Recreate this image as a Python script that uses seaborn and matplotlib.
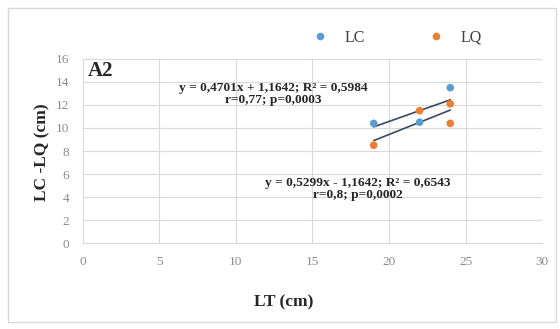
import matplotlib
matplotlib.use("Agg")
import matplotlib.pyplot as plt
import numpy as np
import pandas as pd
import seaborn as sns
from matplotlib.patches import Rectangle

# data
lt_lc = [19, 22, 24]
lc_vals = [10.4, 10.5, 13.5]
lt_lq = [19, 22, 24, 24]
lq_vals = [8.5, 11.5, 12.1, 10.4]

fit_lc = (0.4701, 1.1642)
fit_lq = (0.5299, -1.1642)
eq_lc = "y = 0,4701x + 1,1642; R² = 0,5984\nr=0,77; p=0,0003"
eq_lq = "y = 0,5299x - 1,1642; R² = 0,6543\nr=0,8; p=0,0002"

x_ticks = [0, 5, 10, 15, 20, 25, 30]
y_ticks = [0, 2, 4, 6, 8, 10, 12, 14, 16]

BLUE = "#5b9bd5"
ORANGE = "#ed7d31"
LINE = "#3a4a5e"
GRID = "#d9d9d9"
TICK = "#8a8a8a"

df = pd.DataFrame({
    "LT": lt_lc + lt_lq,
    "val": lc_vals + lq_vals,
    "serie": ["LC"] * len(lt_lc) + ["LQ"] * len(lt_lq),
})

sns.set_style("white")
plt.rcParams["font.family"] = ["Liberation Serif", "DejaVu Serif"]

fig = plt.figure(figsize=(5.6, 3.29), dpi=100)
ax = fig.add_axes([0.148, 0.261, 0.82, 0.56])

# regression lines over the data range
for xs, (m, b) in [(lt_lc, fit_lc), (lt_lq, fit_lq)]:
    xr = np.array([min(xs), max(xs)])
    ax.plot(xr, m * xr + b, color=LINE, lw=1.2, zorder=2)

sns.scatterplot(data=df, x="LT", y="val", hue="serie",
                palette={"LC": BLUE, "LQ": ORANGE}, s=30, edgecolor="none",
                ax=ax, zorder=3, legend=False)

ax.set_xlim(0, 30)
ax.set_ylim(0, 16)
ax.set_xticks(x_ticks)
ax.set_yticks(y_ticks)
ax.grid(True, color=GRID, lw=0.8)
ax.set_axisbelow(True)
for s in ["top", "right", "left"]:
    ax.spines[s].set_visible(False)
ax.spines["bottom"].set_color(GRID)
ax.tick_params(axis="x", length=3, color=GRID, labelsize=9.5, colors=TICK, pad=6)
ax.tick_params(axis="y", length=0, labelsize=9.5, colors=TICK, pad=10)
ax.set_xlabel("")
ax.set_ylabel("")

ax.text(0.01, 0.935, "A2", transform=ax.transAxes, fontsize=15,
        fontweight="bold", ha="left", va="center")
ax.text(273 / 560, 1 - 94 / 329, eq_lc, transform=fig.transFigure,
        fontsize=9.6, fontweight="bold", ha="center", va="center",
        linespacing=1.0)
ax.text(358 / 560, 1 - 189 / 329, eq_lq, transform=fig.transFigure,
        fontsize=9.6, fontweight="bold", ha="center", va="center",
        linespacing=1.0)

fig.text(284 / 560, 1 - 302 / 329, "LT (cm)", fontsize=12.5,
         fontweight="bold", ha="center", va="center")
fig.text(42 / 560, 1 - 152 / 329, "LC -LQ (cm)", fontsize=12.5, fontweight="bold",
         ha="center", va="center", rotation=90)

handles = [
    plt.Line2D([], [], marker="o", ls="", color=BLUE, markersize=4.5),
    plt.Line2D([], [], marker="o", ls="", color=ORANGE, markersize=4.5),
]
fig.legend(handles, ["LC", "LQ"], loc="center", bbox_to_anchor=(393 / 560, 1 - 38 / 329),
           ncol=2, frameon=False, fontsize=11.5, columnspacing=3.5, handletextpad=0.5,
           labelcolor="#404040")

fig.patches.append(Rectangle((8 / 560, 1 - 322 / 329), 548 / 560, 314 / 329,
                             transform=fig.transFigure, fill=False,
                             edgecolor="#d9d9d9", lw=1))

fig.savefig("out.png", dpi=100)
